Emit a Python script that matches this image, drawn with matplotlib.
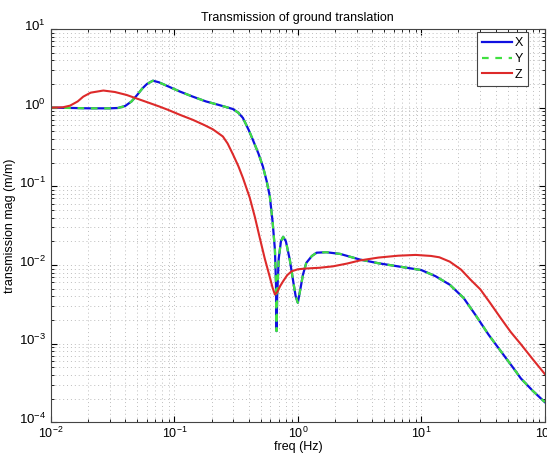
import numpy as np
import matplotlib
matplotlib.use("Agg")
import matplotlib.pyplot as plt
import matplotlib.transforms as mtransforms

# X and Y translation give the same transmission curve
freq_xy = [0.01, 0.015, 0.02, 0.025, 0.03, 0.035, 0.04, 0.045, 0.05, 0.055,
           0.06, 0.067, 0.075, 0.09, 0.111, 0.141, 0.18, 0.23, 0.298, 0.33,
           0.359, 0.40, 0.432, 0.48, 0.521, 0.56, 0.593, 0.625, 0.652, 0.665,
           0.672, 0.68, 0.70, 0.73, 0.76, 0.80, 0.86, 0.92, 0.96, 1.0,
           1.05, 1.1, 1.17, 1.3, 1.42, 1.7, 2.2, 3.18, 4.5, 6.7,
           10, 13, 17, 22, 27.5, 35, 44, 55, 64, 80, 100]
mag_x = [1.0, 0.99, 0.98, 0.98, 0.98, 0.99, 1.05, 1.2, 1.45, 1.75,
         2.0, 2.2, 2.1, 1.85, 1.6, 1.38, 1.2, 1.08, 0.96, 0.86,
         0.74, 0.52, 0.39, 0.26, 0.179, 0.115, 0.0745, 0.035, 0.0157, 0.006,
         1.44e-3, 4e-3, 0.012, 0.02, 0.0228, 0.020, 0.0117, 6e-3, 4e-3, 3.3e-3,
         5e-3, 7.5e-3, 0.0106, 0.0130, 0.0143, 0.0145, 0.0138, 0.0117, 0.0105, 9.5e-3,
         8.6e-3, 7.2e-3, 5.6e-3, 3.8e-3, 2.3e-3, 1.3e-3, 8.0e-4, 5e-4, 3.6e-4, 2.5e-4, 1.8e-4]
mag_y = list(mag_x)

freq_z = [0.01, 0.0125, 0.0143, 0.0165, 0.0183, 0.021, 0.0266, 0.033, 0.041, 0.05,
          0.0634, 0.076, 0.09, 0.111, 0.141, 0.175, 0.205, 0.247, 0.27, 0.298,
          0.33, 0.359, 0.408, 0.45, 0.492, 0.54, 0.593, 0.625, 0.652, 0.68,
          0.72, 0.76, 0.82, 0.89, 1.0, 1.17, 1.5, 1.93, 2.5, 3.18,
          4.5, 6.5, 9, 12, 14, 17, 21, 25, 30, 36,
          44, 53, 64, 80, 100]
mag_z = [1.0, 1.01, 1.06, 1.2, 1.38, 1.55, 1.65, 1.58, 1.45, 1.3,
         1.14, 1.03, 0.93, 0.81, 0.70, 0.6, 0.53, 0.43, 0.35, 0.255,
         0.18, 0.128, 0.0715, 0.040, 0.022, 0.012, 7.0e-3, 5.1e-3, 4.2e-3, 4.5e-3,
         5.4e-3, 6.2e-3, 7.4e-3, 8.3e-3, 8.8e-3, 9.0e-3, 9.2e-3, 9.6e-3, 0.0104, 0.0114,
         0.0124, 0.0131, 0.0134, 0.013, 0.0125, 0.011, 8.7e-3, 6.5e-3, 4.9e-3, 3.3e-3,
         2.1e-3, 1.4e-3, 9.8e-4, 6.3e-4, 4.1e-4]

plt.rcParams['font.family'] = ['Liberation Sans', 'DejaVu Sans']

fig = plt.figure(figsize=(5.47, 4.53), dpi=100)
ax = fig.add_axes([0.093, 0.068, 0.903, 0.868])

ax.loglog(freq_xy, mag_x, color='#1010e0', lw=1.6, label='X')
ax.loglog(freq_xy, mag_y, color='#40e040', lw=1.6, ls=(0, (3, 3)), label='Y')
ax.loglog(freq_z, mag_z, color='#dd2a2a', lw=1.5, label='Z')

ax.set_xlim(1e-2, 1e2)
ax.set_ylim(1e-4, 1e1)
ax.grid(True, which='both', ls=(0, (1, 3)), color='#bdbdbd', lw=0.7)
ax.tick_params(which='both', direction='in', top=True, right=True, labelsize=9.5)
ax.tick_params(axis='x', pad=2.5, labelsize=9)
ax.tick_params(which='major', length=4)
ax.tick_params(which='minor', length=2)
for s in ax.spines.values():
    s.set_linewidth(0.8)
    s.set_color('#444444')

# nudge y tick labels up a little, as in the original
shift = mtransforms.ScaledTranslation(0, 3 / 72, fig.dpi_scale_trans)
for lab in ax.get_yticklabels():
    lab.set_transform(lab.get_transform() + shift)

ax.set_title('Transmission of ground translation', fontsize=9, pad=6)
ax.set_xlabel('freq (Hz)', fontsize=9, labelpad=0)
ax.set_ylabel('transmission mag (m/m)', fontsize=9, labelpad=2)

leg = ax.legend(loc='upper right', bbox_to_anchor=(0.966, 0.992), fontsize=9,
                fancybox=False, framealpha=1, edgecolor='#444444',
                handlelength=2.4, handletextpad=0.25, borderpad=0.4,
                labelspacing=0.3, borderaxespad=0)
leg.get_frame().set_linewidth(0.8)

fig.savefig('out.png', dpi=100)
